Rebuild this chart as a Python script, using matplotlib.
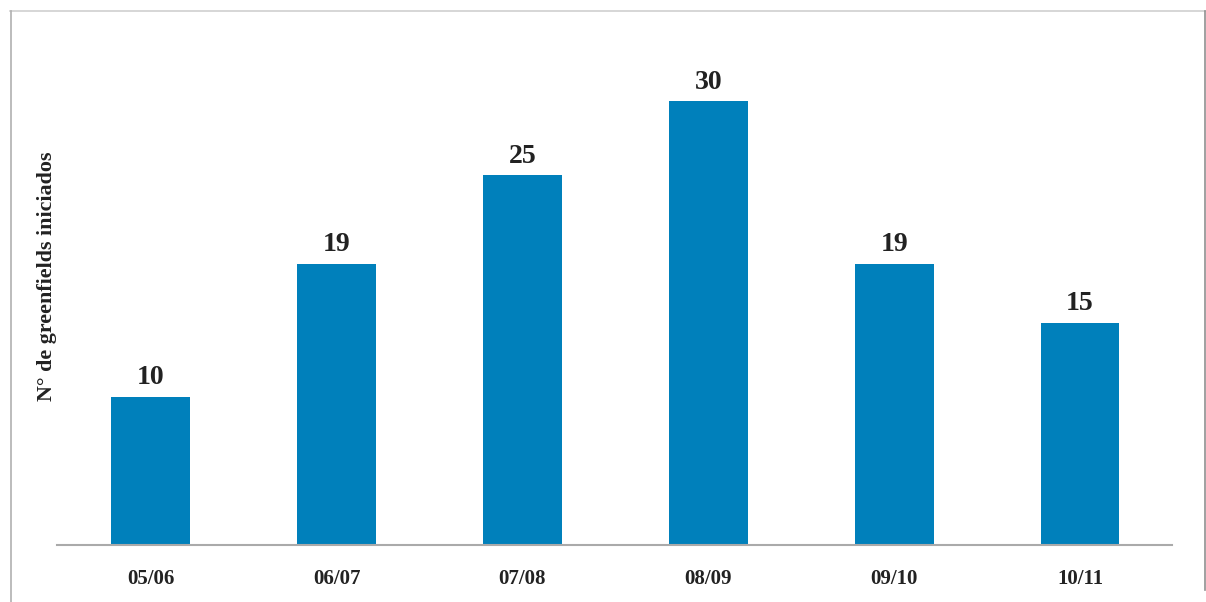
import numpy as np
import matplotlib.pyplot as plt
from matplotlib.lines import Line2D

# Datos
temporadas = ["05/06", "06/07", "07/08", "08/09", "09/10", "10/11"]
greenfields = [10, 19, 25, 30, 19, 15]

plt.rcParams['font.family'] = ['Liberation Serif', 'DejaVu Serif']

fig = plt.figure(figsize=(12.06, 6.02), dpi=100)
ax = fig.add_axes([0.0472, 0.0947, 0.9246, 0.860])

x = np.arange(len(temporadas))
ax.bar(x, greenfields, width=0.425, color='#0080BB')
for xi, v in zip(x, greenfields):
    ax.text(xi, v + 0.45, str(v), ha='center', va='bottom',
            fontsize=20, fontweight='bold', color='#222222')

ax.set_xlim(-0.505, 5.495)
ax.set_ylim(0, 35)
ax.set_xticks(x)
ax.set_xticklabels(temporadas, fontsize=15, fontweight='bold', color='#222222')
ax.tick_params(axis='x', length=0, pad=17)
ax.set_yticks([])
for s in ['top', 'right', 'left']:
    ax.spines[s].set_visible(False)
ax.spines['bottom'].set_color('#aaaaaa')
ax.spines['bottom'].set_linewidth(1.5)

ax.set_ylabel("N° de greenfields iniciados", fontsize=15.8, fontweight='bold',
              color='#222222')
ax.yaxis.set_label_coords(0.0, 0.52)

# marco de la figura
fig.add_artist(Line2D([0.008, 1.0], [0.982, 0.982], color='#d0d0d0', lw=1.2))
fig.add_artist(Line2D([0.009, 0.009], [0.0, 0.982], color='#b0b0b0', lw=1.2))
fig.add_artist(Line2D([0.9995, 0.9995], [0.02, 0.982], color='#909090', lw=1.2))

fig.savefig('out.png', dpi=100)
